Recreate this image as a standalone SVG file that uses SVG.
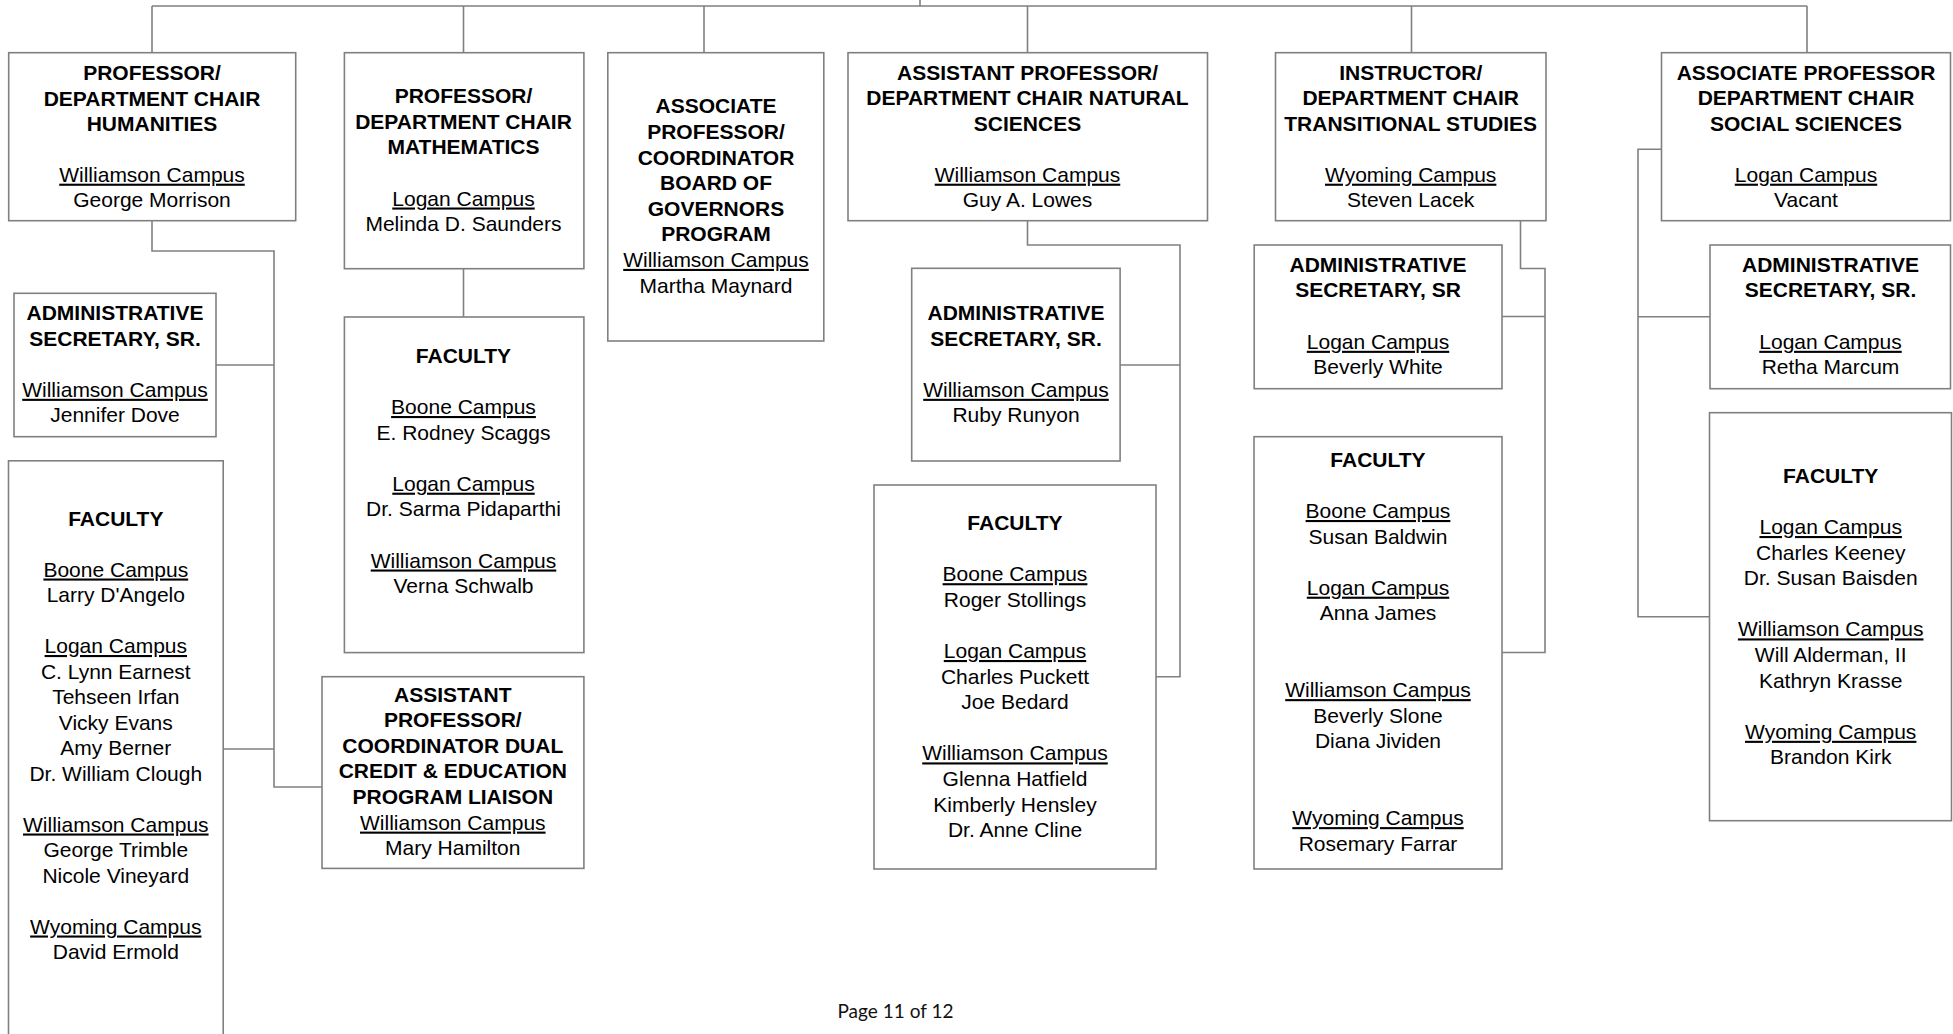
<svg xmlns="http://www.w3.org/2000/svg" width="1953" height="1034" viewBox="0 0 1953 1034">
<style>
.box{fill:#fff;stroke:#808080;stroke-width:1.6}
.conn{fill:none;stroke:#808080;stroke-width:1.6}
text{font-family:"Liberation Sans",Arial,sans-serif;font-size:21px;text-anchor:middle;fill:#000}
.b{font-weight:bold}
.u{text-decoration:underline}
.foot{font-family:Lato,"Liberation Sans",sans-serif;font-size:19px;fill:#111}
</style>
<rect x="0" y="0" width="1953" height="1034" fill="#fff"/>
<g id="connectors">
<path class="conn" d="M152,6 H1807 M920,0 V6 M152,6 V52.7 M463.5,6 V52.7 M704,6 V52.7 M1027.5,6 V52.7 M1411.5,6 V52.7 M1807,6 V52.7"/>
<path class="conn" d="M152,220.7 V251 H274 V787 H322 M215.8,365 H274 M223.2,749 H274"/>
<path class="conn" d="M463.5,268.7 V317"/>
<path class="conn" d="M1027.5,220.7 V245 H1180 V676.7 H1156 M1120,365 H1180"/>
<path class="conn" d="M1520.5,220.7 V268.5 H1545 V652.5 H1502 M1502,316.5 H1545"/>
<path class="conn" d="M1661.5,149.3 H1638 V616.7 H1709.5 M1638,316.7 H1710"/>
</g>
<g id="hum">
<rect class="box" x="8.7" y="52.7" width="287" height="168"/>
<text class="b" x="152" y="80">PROFESSOR/</text>
<text class="b" x="152" y="105.5">DEPARTMENT CHAIR</text>
<text class="b" x="152" y="131">HUMANITIES</text>
<text class="u" x="152" y="181.7">Williamson Campus</text>
<text x="152" y="207">George Morrison</text>
</g>
<g id="math">
<rect class="box" x="344.4" y="52.7" width="239.5" height="216"/>
<text class="b" x="463.5" y="103.3">PROFESSOR/</text>
<text class="b" x="463.5" y="128.8">DEPARTMENT CHAIR</text>
<text class="b" x="463.5" y="154.3">MATHEMATICS</text>
<text class="u" x="463.5" y="205.5">Logan Campus</text>
<text x="463.5" y="231">Melinda D. Saunders</text>
</g>
<g id="bog">
<rect class="box" x="607.8" y="52.7" width="216" height="288.3"/>
<text class="b" x="716" y="113.3">ASSOCIATE</text>
<text class="b" x="716" y="138.9">PROFESSOR/</text>
<text class="b" x="716" y="164.5">COORDINATOR</text>
<text class="b" x="716" y="190.1">BOARD OF</text>
<text class="b" x="716" y="215.7">GOVERNORS</text>
<text class="b" x="716" y="241.3">PROGRAM</text>
<text class="u" x="716" y="266.9">Williamson Campus</text>
<text x="716" y="292.5">Martha Maynard</text>
</g>
<g id="natsci">
<rect class="box" x="848" y="52.7" width="359.5" height="168"/>
<text class="b" x="1027.5" y="79.5">ASSISTANT PROFESSOR/</text>
<text class="b" x="1027.5" y="105">DEPARTMENT CHAIR NATURAL</text>
<text class="b" x="1027.5" y="130.5">SCIENCES</text>
<text class="u" x="1027.5" y="181.7">Williamson Campus</text>
<text x="1027.5" y="207">Guy A. Lowes</text>
</g>
<g id="trans">
<rect class="box" x="1275.5" y="52.7" width="270.5" height="168"/>
<text class="b" x="1410.7" y="79.5">INSTRUCTOR/</text>
<text class="b" x="1410.7" y="105">DEPARTMENT CHAIR</text>
<text class="b" x="1410.7" y="130.5">TRANSITIONAL STUDIES</text>
<text class="u" x="1410.7" y="181.7">Wyoming Campus</text>
<text x="1410.7" y="207">Steven Lacek</text>
</g>
<g id="socsci">
<rect class="box" x="1661.5" y="52.7" width="289" height="168"/>
<text class="b" x="1806" y="79.5">ASSOCIATE PROFESSOR</text>
<text class="b" x="1806" y="105">DEPARTMENT CHAIR</text>
<text class="b" x="1806" y="130.5">SOCIAL SCIENCES</text>
<text class="u" x="1806" y="181.7">Logan Campus</text>
<text x="1806" y="207">Vacant</text>
</g>
<g id="hum-admin">
<rect class="box" x="14" y="293.3" width="202" height="143.4"/>
<text class="b" x="115" y="320">ADMINISTRATIVE</text>
<text class="b" x="115" y="345.6">SECRETARY, SR.</text>
<text class="u" x="115" y="396.8">Williamson Campus</text>
<text x="115" y="422.4">Jennifer Dove</text>
</g>
<g id="math-faculty">
<rect class="box" x="344.4" y="317" width="239.5" height="335.6"/>
<text class="b" x="463.5" y="362.7">FACULTY</text>
<text class="u" x="463.5" y="414">Boone Campus</text>
<text x="463.5" y="439.5">E. Rodney Scaggs</text>
<text class="u" x="463.5" y="490.7">Logan Campus</text>
<text x="463.5" y="516.3">Dr. Sarma Pidaparthi</text>
<text class="u" x="463.5" y="567.5">Williamson Campus</text>
<text x="463.5" y="593.1">Verna Schwalb</text>
</g>
<g id="hum-faculty">
<rect class="box" x="8.5" y="460.8" width="214.7" height="600"/>
<text class="b" x="115.8" y="525.5">FACULTY</text>
<text class="u" x="115.8" y="576.5">Boone Campus</text>
<text x="115.8" y="602">Larry D'Angelo</text>
<text class="u" x="115.8" y="653">Logan Campus</text>
<text x="115.8" y="678.5">C. Lynn Earnest</text>
<text x="115.8" y="704">Tehseen Irfan</text>
<text x="115.8" y="729.5">Vicky Evans</text>
<text x="115.8" y="755">Amy Berner</text>
<text x="115.8" y="780.5">Dr. William Clough</text>
<text class="u" x="115.8" y="831.5">Williamson Campus</text>
<text x="115.8" y="857">George Trimble</text>
<text x="115.8" y="882.5">Nicole Vineyard</text>
<text class="u" x="115.8" y="933.5">Wyoming Campus</text>
<text x="115.8" y="959">David Ermold</text>
</g>
<g id="dual-credit">
<rect class="box" x="322" y="676.7" width="261.9" height="191.7"/>
<text class="b" x="452.8" y="701.6">ASSISTANT</text>
<text class="b" x="452.8" y="727.2">PROFESSOR/</text>
<text class="b" x="452.8" y="752.8">COORDINATOR DUAL</text>
<text class="b" x="452.8" y="778.4">CREDIT &amp; EDUCATION</text>
<text class="b" x="452.8" y="804">PROGRAM LIAISON</text>
<text class="u" x="452.8" y="829.6">Williamson Campus</text>
<text x="452.8" y="855.2">Mary Hamilton</text>
</g>
<g id="natsci-admin">
<rect class="box" x="911.7" y="268.3" width="208.4" height="192.7"/>
<text class="b" x="1016" y="320">ADMINISTRATIVE</text>
<text class="b" x="1016" y="345.6">SECRETARY, SR.</text>
<text class="u" x="1016" y="396.8">Williamson Campus</text>
<text x="1016" y="422.4">Ruby Runyon</text>
</g>
<g id="natsci-faculty">
<rect class="box" x="874" y="485" width="282" height="384"/>
<text class="b" x="1015" y="530">FACULTY</text>
<text class="u" x="1015" y="581.2">Boone Campus</text>
<text x="1015" y="606.8">Roger Stollings</text>
<text class="u" x="1015" y="658">Logan Campus</text>
<text x="1015" y="683.6">Charles Puckett</text>
<text x="1015" y="709.2">Joe Bedard</text>
<text class="u" x="1015" y="760.4">Williamson Campus</text>
<text x="1015" y="786">Glenna Hatfield</text>
<text x="1015" y="811.6">Kimberly Hensley</text>
<text x="1015" y="837.2">Dr. Anne Cline</text>
</g>
<g id="trans-admin">
<rect class="box" x="1254.2" y="245" width="247.8" height="143.7"/>
<text class="b" x="1378" y="271.7">ADMINISTRATIVE</text>
<text class="b" x="1378" y="297.3">SECRETARY, SR</text>
<text class="u" x="1378" y="348.8">Logan Campus</text>
<text x="1378" y="374.4">Beverly White</text>
</g>
<g id="trans-faculty">
<rect class="box" x="1254" y="436.7" width="248" height="432.3"/>
<text class="b" x="1378" y="466.7">FACULTY</text>
<text class="u" x="1378" y="518">Boone Campus</text>
<text x="1378" y="543.5">Susan Baldwin</text>
<text class="u" x="1378" y="594.7">Logan Campus</text>
<text x="1378" y="620.3">Anna James</text>
<text class="u" x="1378" y="697.1">Williamson Campus</text>
<text x="1378" y="722.7">Beverly Slone</text>
<text x="1378" y="748.3">Diana Jividen</text>
<text class="u" x="1378" y="825.1">Wyoming Campus</text>
<text x="1378" y="850.7">Rosemary Farrar</text>
</g>
<g id="socsci-admin">
<rect class="box" x="1710" y="245" width="240.5" height="143.7"/>
<text class="b" x="1830.5" y="271.7">ADMINISTRATIVE</text>
<text class="b" x="1830.5" y="297.3">SECRETARY, SR.</text>
<text class="u" x="1830.5" y="348.8">Logan Campus</text>
<text x="1830.5" y="374.4">Retha Marcum</text>
</g>
<g id="socsci-faculty">
<rect class="box" x="1709.5" y="412.7" width="242" height="408"/>
<text class="b" x="1830.7" y="482.7">FACULTY</text>
<text class="u" x="1830.7" y="534">Logan Campus</text>
<text x="1830.7" y="559.6">Charles Keeney</text>
<text x="1830.7" y="585.2">Dr. Susan Baisden</text>
<text class="u" x="1830.7" y="636.4">Williamson Campus</text>
<text x="1830.7" y="662">Will Alderman, II</text>
<text x="1830.7" y="687.6">Kathryn Krasse</text>
<text class="u" x="1830.7" y="738.8">Wyoming Campus</text>
<text x="1830.7" y="764.4">Brandon Kirk</text>
</g>
<text class="foot" x="895.5" y="1018.3" textLength="116" lengthAdjust="spacingAndGlyphs">Page 11 of 12</text>
</svg>
